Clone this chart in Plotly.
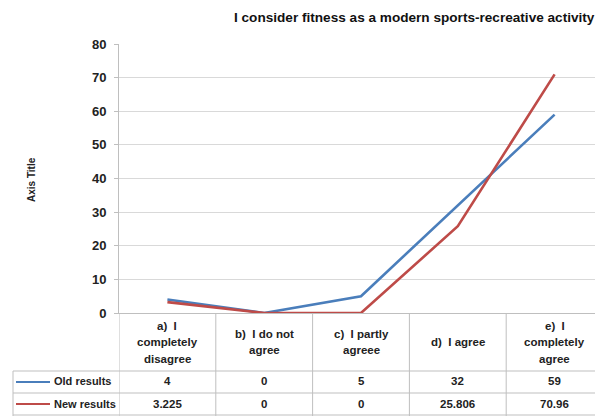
import plotly.graph_objects as go

categories = ["a)  I<br>completely<br>disagree", "b)  I do not<br>agree", "c)  I partly<br>agreee",
              "d)  I agree", "e)  I<br>completely<br>agree"]
series_names = ["Old results", "New results"]
old_results = [4, 0, 5, 32, 59]
new_results = [3.225, 0, 0, 25.806, 70.96]
y_ticks = [0, 10, 20, 30, 40, 50, 60, 70, 80]
title_text = "I consider fitness as a modern sports-recreative activity"
y_title = "Axis Title"

colors = ["#4A7EBB", "#BE4B48"]
FONT = "Liberation Sans, Arial, sans-serif"

# page is shown with an 8px body margin, so the figure is shifted by OFF
OFF = 8
PAGE_W, PAGE_H = 603, 416
W, H = PAGE_W - OFF, PAGE_H - OFF
PLOT_L, PLOT_T, PLOT_B = 119, 44, 313  # page pixels
L, T, R = PLOT_L - OFF, PLOT_T - OFF, 0
B = PAGE_H - PLOT_B
PW, PH = W - L - R, H - T - B


def px_x(px):
    return (px - PLOT_L) / PW


def px_y(py):
    return (PLOT_B - py) / PH


fig = go.Figure()
idx = list(range(len(categories)))
for name, vals, c in zip(series_names, [old_results, new_results], colors):
    fig.add_trace(go.Scatter(x=idx, y=vals, mode="lines", name=name,
                             line=dict(color=c, width=2.6), showlegend=False))

grid = "#D9D9D9"
border = "#BFBFBF"
shapes = []
for k in range(len(categories) + 1):
    shapes.append(dict(type="line", xref="x", yref="paper", x0=k - 0.5, x1=k - 0.5,
                       y0=0, y1=px_y(PAGE_H), line=dict(color=border, width=1)))
row1, row2, row3 = 371, 393, 415
shapes.append(dict(type="line", xref="paper", yref="paper", x0=px_x(13), x1=px_x(13),
                   y0=px_y(row1), y1=px_y(PAGE_H), line=dict(color=border, width=1)))
for ry in [row1, row2, row3]:
    shapes.append(dict(type="line", xref="paper", yref="paper", x0=px_x(13), x1=1.0,
                       y0=px_y(ry), y1=px_y(ry), line=dict(color=border, width=1)))
for ry, c in zip([382, 404], colors):
    shapes.append(dict(type="line", xref="paper", yref="paper", x0=px_x(16), x1=px_x(50),
                       y0=px_y(ry), y1=px_y(ry), line=dict(color=c, width=2)))

annotations = []
tf = dict(family=FONT, size=11.5, color="#222222")
LINE_GAP = 16.5
for k, cat in enumerate(categories):
    lines = cat.split("<br>")
    n = len(lines)
    for j, ln in enumerate(lines):
        cy = 342 + (j - (n - 1) / 2) * LINE_GAP
        annotations.append(dict(x=k, y=px_y(cy), xref="x", yref="paper", text="<b>%s</b>" % ln,
                                showarrow=False, font=tf, xanchor="center", yanchor="middle"))
for ry, name, vals in zip([381, 404], series_names, [old_results, new_results]):
    annotations.append(dict(x=px_x(52), y=px_y(ry), xref="paper", yref="paper",
                            text="<b>%s</b>" % name, showarrow=False,
                            font=dict(family=FONT, size=11, color="#222222"),
                            xanchor="left", yanchor="middle"))
    for k, v in enumerate(vals):
        annotations.append(dict(x=k, y=px_y(ry), xref="x", yref="paper",
                                text="<b>%s</b>" % format(v, "g"), showarrow=False, font=tf,
                                xanchor="center", yanchor="middle"))
annotations.append(dict(x=px_x(414), y=px_y(17), xref="paper", yref="paper",
                        text="<b>%s</b>" % title_text, showarrow=False,
                        xanchor="center", yanchor="middle",
                        font=dict(family=FONT, size=13.6, color="#111111")))
annotations.append(dict(x=px_x(31), y=px_y(180), xref="paper", yref="paper",
                        text="<b>%s</b>" % y_title, showarrow=False, textangle=-90,
                        xanchor="center", yanchor="middle",
                        font=dict(family=FONT, size=10, color="#222222")))

fig.update_layout(
    width=W, height=H, margin=dict(l=L, r=R, t=T, b=B),
    paper_bgcolor="white", plot_bgcolor="white",
    shapes=shapes, annotations=annotations,
    xaxis=dict(range=[-0.5, 4.5], showticklabels=False, showgrid=False, zeroline=False,
               showline=True, linecolor=border, linewidth=1, ticks=""),
    yaxis=dict(range=[0, 80], tickvals=y_ticks, ticktext=["<b>%d</b>" % v for v in y_ticks],
               showgrid=True, gridcolor=grid, gridwidth=1, zeroline=False,
               showline=True, linecolor=border, linewidth=1, ticks="outside", ticklen=4,
               tickcolor=border, ticklabelstandoff=5,
               tickfont=dict(family=FONT, size=13, color="#222222")),
)

fig.write_html("out.html")
